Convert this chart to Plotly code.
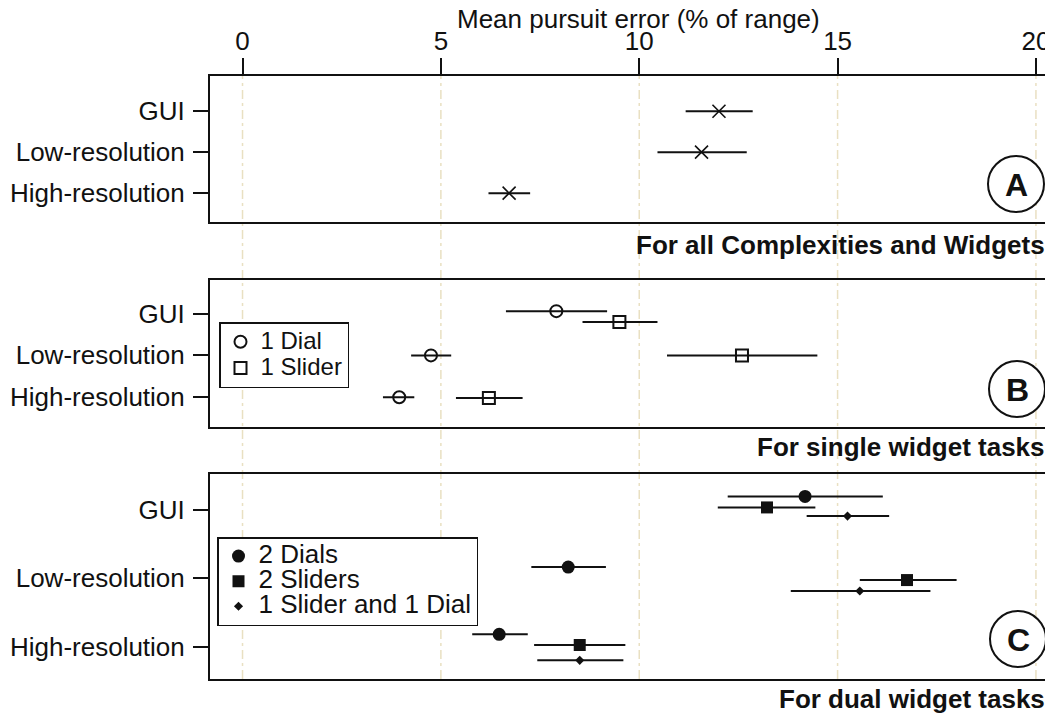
import plotly.graph_objects as go

# ---------------- data ----------------
categories = ["GUI", "Low-resolution", "High-resolution"]
tick_values = [0, 5, 10, 15, 20]

# Panel A: all complexities and widgets
a_mean = [12.01, 11.57, 6.72]
a_lo = [11.17, 10.46, 6.20]
a_hi = [12.86, 12.71, 7.25]

# Panel B: single widget tasks
b_dial_mean = [7.91, 4.75, 3.95]
b_dial_lo = [6.64, 4.25, 3.54]
b_dial_hi = [9.19, 5.26, 4.33]
b_slider_mean = [9.50, 12.59, 6.21]
b_slider_lo = [8.57, 10.70, 5.38]
b_slider_hi = [10.46, 14.49, 7.06]

# Panel C: dual widget tasks
c_dials_mean = [14.18, 8.21, 6.47]
c_dials_lo = [12.23, 7.28, 5.79]
c_dials_hi = [16.14, 9.16, 7.19]
c_sliders_mean = [13.22, 16.75, 8.50]
c_sliders_lo = [11.98, 15.56, 7.35]
c_sliders_hi = [14.44, 18.00, 9.65]
c_mixed_mean = [15.25, 15.56, 8.50]
c_mixed_lo = [14.22, 13.82, 7.43]
c_mixed_hi = [16.30, 17.34, 9.60]

# ---------------- layout helpers (positions, not data) ----------------
cat_pos = [3, 2, 1]
dodge_b_dial = [0.056, 0.0, 0.0]
dodge_b_slider = [-0.20, 0.0, -0.02]
dodge_c_dials = [0.194, 0.164, 0.185]
dodge_c_sliders = [0.033, -0.025, 0.029]
dodge_c_mixed = [-0.093, -0.185, -0.194]

# page body has an 8px margin, so the figure is drawn 8px in and down
PAGE_OFF = 8
W, H = 1053 - PAGE_OFF, 713 - PAGE_OFF
# plot-area edges in screen pixels
SL, ST, SB, SR = 210, 76, 679, 1053
L = SL - PAGE_OFF
T = ST - PAGE_OFF
B = H - (SB - PAGE_OFF)
R = W - (SR - PAGE_OFF)


def px_x(sx):
    return (sx - SL) / (SR - SL)


def px_y(sy):
    return (SB - sy) / (SB - ST)


FONT = "Liberation Sans, Arial, Helvetica, sans-serif"
BLACK = "#111111"


def err(mean, lo, hi):
    return dict(type="data", symmetric=False,
                array=[h - m for m, h in zip(mean, hi)],
                arrayminus=[m - l for m, l in zip(mean, lo)],
                color=BLACK, thickness=2, width=0)


def ypos(off):
    return [p + o for p, o in zip(cat_pos, off)]


def sized(name, size):
    return '<span style="font-size:%dpx">%s</span>' % (size, name)


fig = go.Figure()

fig.add_trace(go.Scatter(
    x=a_mean, y=ypos([0, 0, 0]), mode="markers", xaxis="x", yaxis="y",
    error_x=err(a_mean, a_lo, a_hi), showlegend=False,
    marker=dict(symbol="x-thin-open", size=13, color=BLACK,
                line=dict(width=1.6, color=BLACK))))

fig.add_trace(go.Scatter(
    x=b_dial_mean, y=ypos(dodge_b_dial), mode="markers",
    name=sized("1 Dial", 24),
    xaxis="x2", yaxis="y2", legend="legend",
    error_x=err(b_dial_mean, b_dial_lo, b_dial_hi),
    marker=dict(symbol="circle-open", size=12, color=BLACK,
                line=dict(width=2, color=BLACK))))
fig.add_trace(go.Scatter(
    x=b_slider_mean, y=ypos(dodge_b_slider), mode="markers",
    name=sized("1 Slider", 24),
    xaxis="x2", yaxis="y2", legend="legend",
    error_x=err(b_slider_mean, b_slider_lo, b_slider_hi),
    marker=dict(symbol="square-open", size=12, color=BLACK,
                line=dict(width=2, color=BLACK))))

fig.add_trace(go.Scatter(
    x=c_dials_mean, y=ypos(dodge_c_dials), mode="markers",
    name=sized("2 Dials", 26),
    xaxis="x3", yaxis="y3", legend="legend2",
    error_x=err(c_dials_mean, c_dials_lo, c_dials_hi),
    marker=dict(symbol="circle", size=13, color=BLACK)))
fig.add_trace(go.Scatter(
    x=c_sliders_mean, y=ypos(dodge_c_sliders), mode="markers",
    name=sized("2 Sliders", 26),
    xaxis="x3", yaxis="y3", legend="legend2",
    error_x=err(c_sliders_mean, c_sliders_lo, c_sliders_hi),
    marker=dict(symbol="square", size=12, color=BLACK)))
fig.add_trace(go.Scatter(
    x=c_mixed_mean, y=ypos(dodge_c_mixed), mode="markers",
    name=sized("1 Slider and 1 Dial", 26),
    xaxis="x3", yaxis="y3", legend="legend2",
    error_x=err(c_mixed_mean, c_mixed_lo, c_mixed_hi),
    marker=dict(symbol="diamond", size=7, color=BLACK)))

xrange = [-0.82, 20.43]
tick_font = dict(family=FONT, size=26, color=BLACK)

xcommon = dict(range=xrange, domain=[0, 1], showgrid=False, zeroline=False,
               showline=True, linewidth=2, linecolor=BLACK, mirror=True)
ycommon = dict(showgrid=False, zeroline=False, showline=True, linewidth=2,
               linecolor=BLACK, mirror=False, ticks="outside", ticklen=15,
               tickwidth=2, tickcolor=BLACK, tickvals=cat_pos,
               ticktext=categories, tickfont=tick_font, ticklabelstandoff=3)

fig.update_layout(
    width=W, height=H,
    margin=dict(l=L, r=R, t=T, b=B, pad=0),
    paper_bgcolor="white", plot_bgcolor="white",
    font=dict(family=FONT, color=BLACK),
    xaxis=dict(**xcommon, side="top", anchor="y", ticks="outside", ticklen=16,
               tickwidth=2, tickcolor=BLACK, tickvals=tick_values,
               tickfont=tick_font, ticklabelstandoff=-2),
    xaxis2=dict(**xcommon, anchor="y2", matches="x", showticklabels=False,
                ticks=""),
    xaxis3=dict(**xcommon, anchor="y3", matches="x", showticklabels=False,
                ticks=""),
    yaxis=dict(**ycommon, domain=[px_y(222), 1], range=[0.295, 3.86],
               anchor="x"),
    yaxis2=dict(**ycommon, domain=[px_y(427), px_y(280)], range=[0.29, 3.80],
                anchor="x2"),
    yaxis3=dict(**ycommon, domain=[0, px_y(474)], range=[0.534, 3.52],
                anchor="x3"),
    legend=dict(x=px_x(219), y=px_y(322), xanchor="left", yanchor="top",
                bgcolor="white", bordercolor=BLACK, borderwidth=1.5,
                font=dict(family=FONT, size=18, color=BLACK),
                tracegroupgap=0, itemsizing="trace"),
    legend2=dict(x=px_x(217), y=px_y(537), xanchor="left", yanchor="top",
                 bgcolor="white", bordercolor=BLACK, borderwidth=1.5,
                 font=dict(family=FONT, size=17, color=BLACK),
                 tracegroupgap=0, itemsizing="trace"),
)

# vertical dashed grid lines spanning all panels
for v in tick_values:
    fig.add_shape(type="line", xref="x", yref="paper", x0=v, x1=v, y0=0, y1=1,
                  layer="below",
                  line=dict(color="#E9E0C2", width=1.5, dash="9px,4px,3px,4px"))

# axis title
fig.add_annotation(text="Mean pursuit error (% of range)", xref="paper",
                   yref="paper", x=px_x(638), y=px_y(19), showarrow=False,
                   xanchor="center", yanchor="middle",
                   font=dict(family=FONT, size=26, color=BLACK))

# panel subtitles
subtitles = [("For all Complexities and Widgets", 245),
             ("For single widget tasks", 447),
             ("For dual widget tasks", 699)]
for txt, sy in subtitles:
    fig.add_annotation(text="<b>%s</b>" % txt, xref="paper", yref="paper",
                       x=px_x(1047), y=px_y(sy), showarrow=False,
                       xanchor="right", yanchor="middle",
                       font=dict(family=FONT, size=26, color=BLACK))

# circled panel letters
letters = [("A", 1016, 184), ("B", 1017, 389), ("C", 1018, 639)]
rad = 28
for lt, cx, cy in letters:
    fig.add_shape(type="circle", xref="paper", yref="paper",
                  x0=px_x(cx - rad), x1=px_x(cx + rad),
                  y0=px_y(cy + rad), y1=px_y(cy - rad),
                  line=dict(color=BLACK, width=2), fillcolor="white",
                  layer="above")
    fig.add_annotation(text="<b>%s</b>" % lt, xref="paper", yref="paper",
                       x=px_x(cx), y=px_y(cy + 1), showarrow=False,
                       xanchor="center", yanchor="middle",
                       font=dict(family=FONT, size=32, color=BLACK))

fig.write_html("out.html")
